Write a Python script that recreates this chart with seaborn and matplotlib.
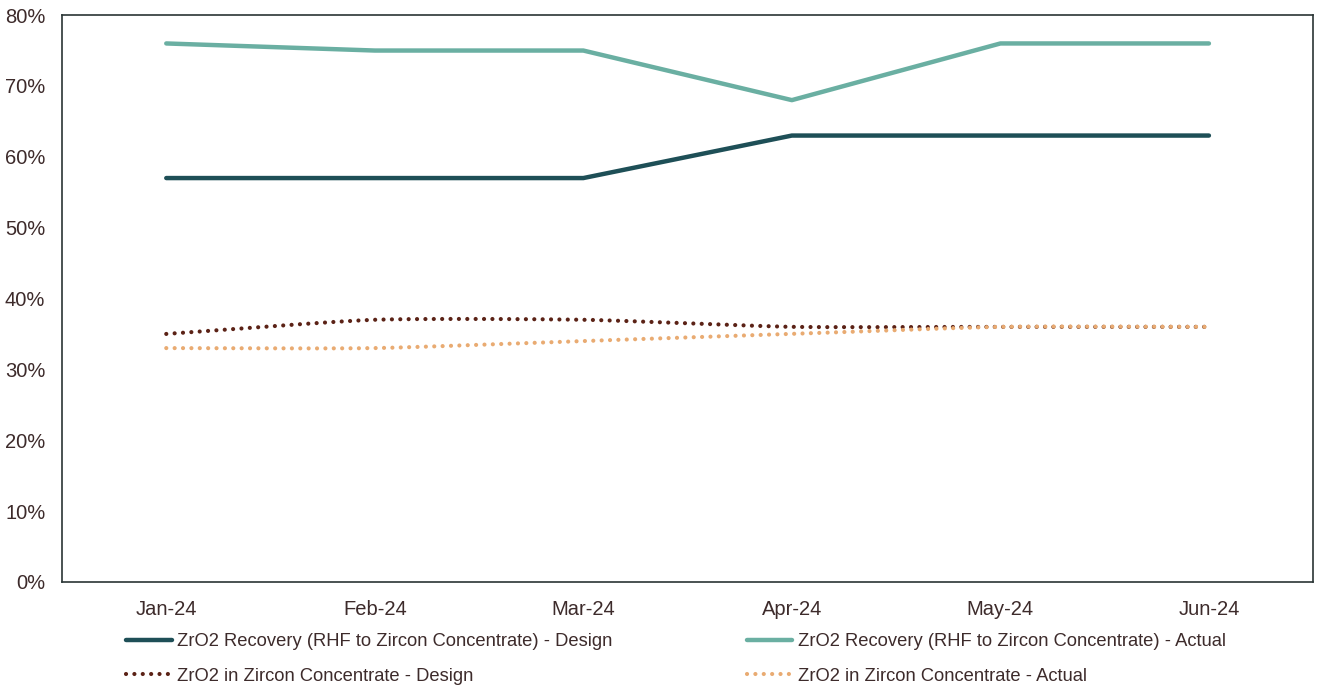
import numpy as np
import pandas as pd
import matplotlib
matplotlib.use("Agg")
import matplotlib.pyplot as plt
from matplotlib.lines import Line2D
from matplotlib.ticker import PercentFormatter
import seaborn as sns

months = ["Jan-24", "Feb-24", "Mar-24", "Apr-24", "May-24", "Jun-24"]
recovery_design = [57, 57, 57, 63, 63, 63]
recovery_actual = [76, 75, 75, 68, 76, 76]
zro2_design = [35, 37, 37, 36, 36, 36]
zro2_actual = [33, 33, 34, 35, 36, 36]

labels = [
    "ZrO2 Recovery (RHF to Zircon Concentrate) - Design",
    "ZrO2 Recovery (RHF to Zircon Concentrate) - Actual",
    "ZrO2 in Zircon Concentrate - Design",
    "ZrO2 in Zircon Concentrate - Actual",
]
colors = ["#1e4f57", "#6aafa2", "#5b2216", "#e9ab72"]
text_color = "#3d2b2b"

sns.set_theme(style="white")
plt.rcParams["font.family"] = ["Liberation Sans", "DejaVu Sans"]


def smooth(y, n=40, tension=0.6):
    """Cardinal spline through the points for a smoothed line."""
    y = np.asarray(y, dtype=float)
    x = np.arange(len(y), dtype=float)
    my = np.gradient(y, edge_order=1) * tension
    mx = np.ones_like(x) * tension
    t = np.linspace(0, 1, n, endpoint=False)
    h00 = 2 * t ** 3 - 3 * t ** 2 + 1
    h10 = t ** 3 - 2 * t ** 2 + t
    h01 = -2 * t ** 3 + 3 * t ** 2
    h11 = t ** 3 - t ** 2
    xs, ys = [], []
    for i in range(len(y) - 1):
        xs.append(h00 * x[i] + h10 * mx[i] + h01 * x[i + 1] + h11 * mx[i + 1])
        ys.append(h00 * y[i] + h10 * my[i] + h01 * y[i + 1] + h11 * my[i + 1])
    xs.append([x[-1]])
    ys.append([y[-1]])
    return np.concatenate(xs), np.concatenate(ys)


fig = plt.figure(figsize=(13.19, 6.87), dpi=100)
ax = fig.add_axes([0.047, 0.153, 0.9486, 0.825])

xi = np.arange(len(months))
solid = pd.DataFrame({"x": xi, "design": recovery_design, "actual": recovery_actual})
sns.lineplot(data=solid, x="x", y="design", ax=ax, color=colors[0], lw=3.2,
             solid_capstyle="round", solid_joinstyle="round")
sns.lineplot(data=solid, x="x", y="actual", ax=ax, color=colors[1], lw=3.2,
             solid_capstyle="round", solid_joinstyle="round")

dot_style = (0, (0.01, 2.0))
for vals, col in [(zro2_design, colors[2]), (zro2_actual, colors[3])]:
    sx, sy = smooth(vals)
    curve = pd.DataFrame({"x": sx, "y": sy})
    sns.lineplot(data=curve, x="x", y="y", ax=ax, color=col, lw=3.0,
                 linestyle=dot_style, dash_capstyle="round", sort=False)

ax.set_xlim(-0.5, len(months) - 0.5)
ax.set_ylim(0, 80)
ax.set_yticks(range(0, 81, 10))
ax.yaxis.set_major_formatter(PercentFormatter(decimals=0))
ax.set_xticks(xi)
ax.set_xticklabels(months)
ax.set_xlabel("")
ax.set_ylabel("")
ax.tick_params(axis="both", length=0, labelsize=14.5, colors=text_color)
ax.tick_params(axis="x", pad=13)
ax.tick_params(axis="y", pad=12)
for s in ax.spines.values():
    s.set_visible(True)
    s.set_color("#2a3535")
    s.set_linewidth(1.2)

handles = [
    Line2D([], [], color=colors[0], lw=3.2, solid_capstyle="round"),
    Line2D([], [], color=colors[1], lw=3.2, solid_capstyle="round"),
    Line2D([], [], color=colors[2], lw=3.0, linestyle=dot_style, dash_capstyle="round"),
    Line2D([], [], color=colors[3], lw=3.0, linestyle=dot_style, dash_capstyle="round"),
]
order = [0, 2, 1, 3]
fig.legend([handles[i] for i in order], [labels[i] for i in order],
           loc="upper left", bbox_to_anchor=(0.0955, 0.078), ncol=2, frameon=False,
           fontsize=13.2, handlelength=2.5, handletextpad=0.3, columnspacing=7.3,
           labelspacing=0.95, labelcolor=text_color, borderaxespad=0, borderpad=0)

fig.savefig("out.png", dpi=100, facecolor="white")
